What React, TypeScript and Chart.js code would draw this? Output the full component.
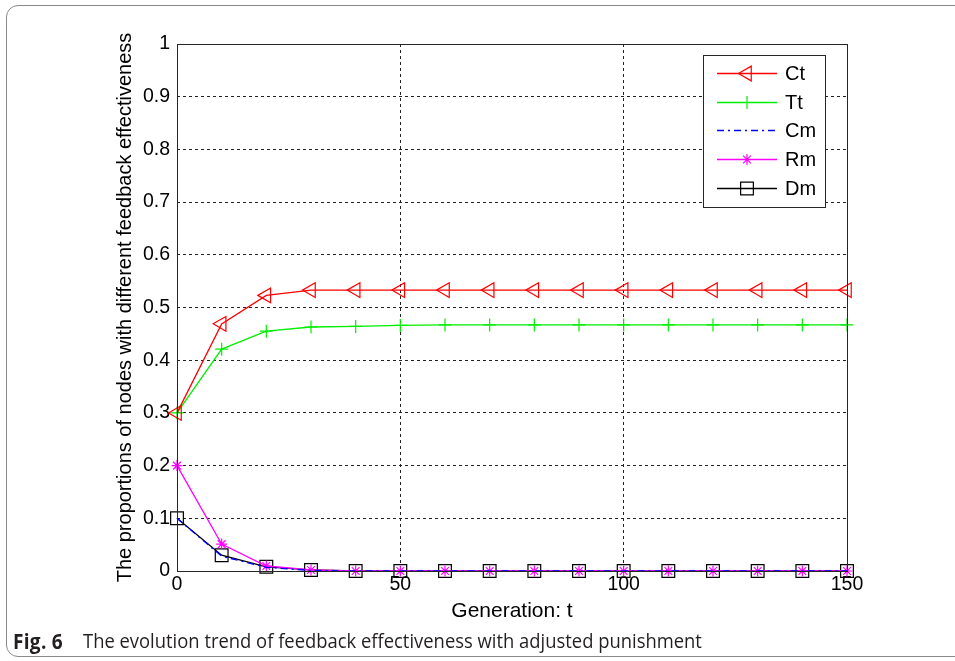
import React, { useEffect, useRef } from 'react';
import { Chart, registerables } from 'chart.js';
import { drawPoint } from 'chart.js/helpers';

Chart.register(...registerables);

// ---- data ----
const generations = [0, 10, 20, 30, 40, 50, 60, 70, 80, 90, 100, 110, 120, 130, 140, 150];
const ctValues = [0.3, 0.469, 0.523, 0.533, 0.533, 0.533, 0.533, 0.533, 0.533, 0.533, 0.533, 0.533, 0.533, 0.533, 0.533, 0.533];
const ttValues = [0.3, 0.421, 0.455, 0.463, 0.464, 0.466, 0.467, 0.467, 0.467, 0.467, 0.467, 0.467, 0.467, 0.467, 0.467, 0.467];
const cmValues = [0.1, 0.028, 0.007, 0.001, 0, 0, 0, 0, 0, 0, 0, 0, 0, 0, 0, 0];
const rmValues = [0.2, 0.051, 0.0095, 0.002, 0, 0, 0, 0, 0, 0, 0, 0, 0, 0, 0, 0];
const dmValues = [0.1, 0.03, 0.008, 0.002, 0, 0, 0, 0, 0, 0, 0, 0, 0, 0, 0, 0];
const seriesNames = ['Ct', 'Tt', 'Cm', 'Rm', 'Dm'];
const xTicks = [0, 50, 100, 150];
const yTicks = [0, 0.1, 0.2, 0.3, 0.4, 0.5, 0.6, 0.7, 0.8, 0.9, 1];
const xTitle = 'Generation: t';
const yTitle = 'The proportions of nodes with different feedback effectiveness';
const captionLabel = 'Fig. 6';
const captionText = 'The evolution trend of feedback effectiveness with adjusted punishment';

const FONT = '"Liberation Sans", Arial, sans-serif';

const toPoints = (vals: number[]) => generations.map((x, i) => ({ x, y: vals[i] }));

const boxPlugin = {
  id: 'axesBox',
  afterDatasetsDraw(chart: any) {
    const { ctx, chartArea } = chart;
    ctx.save();
    ctx.strokeStyle = '#262626';
    ctx.lineWidth = 1;
    ctx.strokeRect(chartArea.left + 0.5, chartArea.top + 0.5, chartArea.right - chartArea.left, chartArea.bottom - chartArea.top);
    ctx.restore();
  },
};

const legendPlugin = {
  id: 'matlabLegend',
  afterDraw(chart: any) {
    const { ctx, chartArea } = chart;
    const w = 122;
    const h = 152;
    const left = chartArea.right - 22 - w;
    const top = chartArea.top + 11;
    ctx.save();
    ctx.fillStyle = '#ffffff';
    ctx.fillRect(left, top, w, h);
    ctx.strokeStyle = '#262626';
    ctx.lineWidth = 1;
    ctx.strokeRect(left + 0.5, top + 0.5, w, h);
    chart.data.datasets.forEach((ds: any, i: number) => {
      const y = Math.round(top + 18 + i * 28.7) + 0.5;
      ctx.save();
      ctx.strokeStyle = ds.borderColor;
      ctx.lineWidth = ds.borderWidth;
      ctx.setLineDash(ds.borderDash || []);
      ctx.beginPath();
      ctx.moveTo(left + 14, y);
      ctx.lineTo(left + 74, y);
      ctx.stroke();
      ctx.setLineDash([]);
      if (ds.pointRadius > 0) {
        ctx.strokeStyle = ds.pointBorderColor;
        ctx.fillStyle = 'rgba(0,0,0,0)';
        ctx.lineWidth = ds.pointBorderWidth;
        drawPoint(ctx, { pointStyle: ds.pointStyle, rotation: ds.pointRotation || 0, radius: ds.pointRadius, borderWidth: ds.pointBorderWidth }, left + 44, y);
      }
      ctx.restore();
      ctx.fillStyle = '#000';
      ctx.font = `20px ${FONT}`;
      ctx.textBaseline = 'middle';
      ctx.textAlign = 'left';
      ctx.fillText(seriesNames[i], left + 82, y + 1);
    });
    ctx.restore();
  },
};

export default function App() {
  const canvasRef = useRef<HTMLCanvasElement | null>(null);

  useEffect(() => {
    document.body.style.margin = '0';
    const canvas = canvasRef.current;
    if (!canvas) return;
    const common = { tension: 0, borderWidth: 1.3, pointBorderWidth: 1.2, pointBackgroundColor: 'rgba(0,0,0,0)', clip: false as any };
    const chart = new Chart(canvas, {
      type: 'line',
      data: {
        datasets: [
          { ...common, label: seriesNames[0], data: toPoints(ctValues), borderColor: '#ff0000', pointBorderColor: '#ff0000', pointStyle: 'triangle', pointRotation: -90, pointRadius: 8.5 },
          { ...common, label: seriesNames[1], data: toPoints(ttValues), borderColor: '#00ee00', pointBorderColor: '#00ee00', pointStyle: 'cross', pointRadius: 6.5 },
          { ...common, label: seriesNames[2], data: toPoints(cmValues), borderColor: '#0000ff', pointBorderColor: '#0000ff', borderDash: [7, 4, 2, 4], pointRadius: 0 },
          { ...common, label: seriesNames[3], data: toPoints(rmValues), borderColor: '#ff00ff', pointBorderColor: '#ff00ff', pointStyle: 'star', pointRadius: 5.5 },
          { ...common, label: seriesNames[4], data: toPoints(dmValues), borderColor: '#000000', pointBorderColor: '#000000', pointStyle: 'rect', pointRadius: 9 },
        ] as any,
      },
      options: {
        animation: false,
        responsive: false,
        events: [],
        layout: { padding: { left: 102, right: 108, top: 44, bottom: 0 } },
        plugins: { legend: { display: false }, tooltip: { enabled: false } },
        scales: {
          x: {
            type: 'linear',
            min: 0,
            max: 150,
            afterFit: (s: any) => { s.height = 90; },
            afterBuildTicks: (s: any) => { s.ticks = xTicks.map((v) => ({ value: v })); },
            ticks: { color: '#000', font: { family: FONT, size: 19.5 }, padding: 2, maxRotation: 0, callback: (v: any) => String(v) },
            grid: { color: '#222', lineWidth: 1, drawTicks: false } as any,
            border: { display: false, dash: [3, 3] } as any,
            title: { display: true, text: xTitle, color: '#000', font: { family: FONT, size: 21 }, padding: { top: 0, bottom: 37 } },
          },
          y: {
            type: 'linear',
            min: 0,
            max: 1,
            afterFit: (s: any) => { s.width = 177 - 102; },
            afterBuildTicks: (s: any) => { s.ticks = yTicks.map((v) => ({ value: v })); },
            ticks: { color: '#000', font: { family: FONT, size: 19.5 }, padding: 7, callback: (v: any) => String(Number(Number(v).toFixed(1))) },
            grid: { color: '#222', lineWidth: 1, drawTicks: false } as any,
            border: { display: false, dash: [3, 3] } as any,
            title: { display: true, text: yTitle, color: '#000', font: { family: FONT, size: 20 }, padding: { top: 11, bottom: 0 } },
          },
        },
      },
      plugins: [boxPlugin, legendPlugin],
    });
    return () => chart.destroy();
  }, []);

  const captionFont = '"Open Sans", "Noto Sans", sans-serif';

  return (
    <div style={{ position: 'absolute', left: 0, top: 0, width: 955, height: 661, overflow: 'hidden', background: '#fff' }}>
      <div
        style={{
          position: 'absolute',
          left: 6,
          top: 5,
          width: 1000,
          height: 652,
          border: '1.5px solid #8a8a8a',
          borderRadius: 12,
          boxSizing: 'border-box',
        }}
      />
      <canvas ref={canvasRef} width={955} height={661} style={{ position: 'absolute', left: 0, top: 0 }} />
      <div
        style={{
          position: 'absolute',
          left: 13,
          top: 629,
          whiteSpace: 'nowrap',
          fontFamily: captionFont,
          fontSize: 20.5,
          fontWeight: 700,
          letterSpacing: 0.3,
          lineHeight: '24px',
          color: '#231f20',
          transform: 'scaleX(0.93)',
          transformOrigin: 'left top',
        }}
      >
        {captionLabel}
      </div>
      <div
        style={{
          position: 'absolute',
          left: 83,
          top: 629,
          whiteSpace: 'nowrap',
          fontFamily: captionFont,
          fontSize: 20,
          lineHeight: '24px',
          color: '#231f20',
          transform: 'scaleX(0.92)',
          transformOrigin: 'left top',
        }}
      >
        {captionText}
      </div>
    </div>
  );
}
